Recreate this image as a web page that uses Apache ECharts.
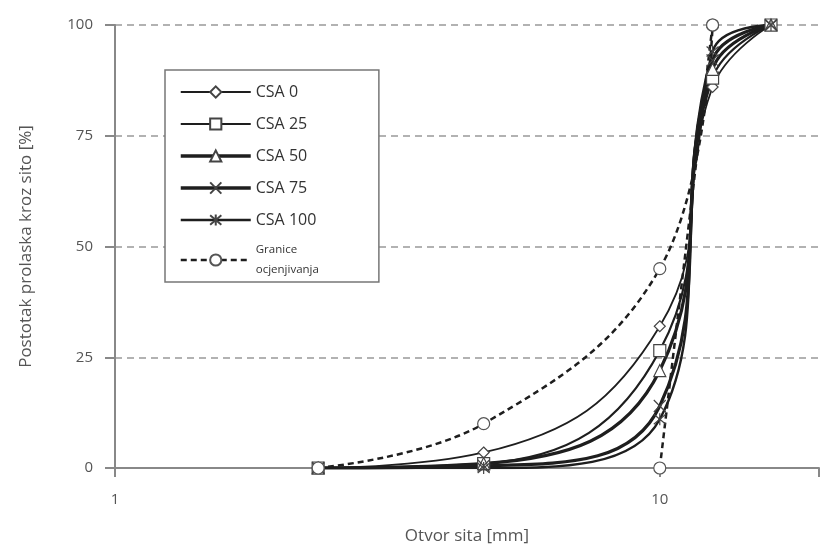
<!DOCTYPE html>
<html>
<head>
<meta charset="utf-8">
<script src="https://cdn.jsdelivr.net/npm/echarts@6/dist/echarts.min.js"></script>
<style>html,body{margin:0;padding:0;background:#fff}#c{width:822px;height:550px}</style>
</head>
<body>
<div id="c"></div>
<script>
const sieve = [2.36, 4.75, 10, 12.5, 16];
const csa0 = [0, 3.5, 32, 86, 100];
const csa25 = [0, 1, 26.5, 88, 100];
const csa50 = [0, 1, 22, 90, 100];
const csa75 = [0, 0.5, 14, 92, 100];
const csa100 = [0, 0, 11, 94, 100];
const upperSieve = [2.36, 4.75, 10, 12.5];
const upperBound = [0, 10, 45, 100];
const lowerSieve = [10, 12.5];
const lowerBound = [0, 100];
const yTicks = [0, 25, 50, 75, 100];
const xTickLabels = [1, 10];

const pair = (xs, ys) => xs.map((x, i) => [x, ys[i]]);
const dark = '#1e1e1e';
const xPath = 'path://M0,0L10,10M10,0L0,10';
const starPath = 'path://M0,0L10,10M10,0L0,10M5,-1L5,11';
const widths = { 'CSA 0': 1.8, 'CSA 25': 2.2, 'CSA 50': 3.2, 'CSA 75': 3.2, 'CSA 100': 2.4 };

function csaSeries(name, ys, symbol, size) {
  return {
    name, type: 'line', data: pair(sieve, ys), smooth: 0.45,
    symbol, symbolSize: size, showAllSymbol: true,
    lineStyle: { color: dark, width: widths[name] },
    itemStyle: { color: '#fff', borderColor: '#444', borderWidth: 1.2 }
  };
}

const chart = echarts.init(document.getElementById('c'));
chart.setOption({
  animation: false,
  textStyle: { fontFamily: 'Open Sans' },
  grid: { left: 115, top: 25, right: 0, bottom: 81 },
  legend: {
    left: 165, top: 70, orient: 'vertical',
    backgroundColor: '#fff',
    borderColor: '#777', borderWidth: 1.5, borderRadius: 0,
    padding: [14, 60, 6, 14],
    itemWidth: 70, itemHeight: 14, itemGap: 16,
    textStyle: { color: '#333', fontSize: 16, fontFamily: 'Open Sans',
      rich: { s: { fontSize: 11.5, lineHeight: 20, color: '#333', fontFamily: 'Open Sans' } } },
    formatter: n => n === 'Granice ocjenjivanja' ? '{s|Granice}\n{s|ocjenjivanja}' : n,
    data: [
      { name: 'CSA 0', lineStyle: { width: 1.8 } },
      { name: 'CSA 25', lineStyle: { width: 2.2 } },
      { name: 'CSA 50', lineStyle: { width: 3.5 } },
      { name: 'CSA 75', lineStyle: { width: 3.5 } },
      { name: 'CSA 100', lineStyle: { width: 2.5 } },
      { name: 'Granice ocjenjivanja', lineStyle: { width: 2.5 } }
    ]
  },
  xAxis: {
    type: 'log', logBase: 10, min: 1, max: 19.6,
    name: 'Otvor sita [mm]', nameLocation: 'middle', nameGap: 60,
    nameTextStyle: { fontSize: 17, color: '#555' },
    axisLine: { lineStyle: { color: '#888', width: 2 } },
    axisTick: { show: true, length: 9, lineStyle: { color: '#888', width: 2 } },
    axisLabel: { fontSize: 15, color: '#555', margin: 24,
      formatter: v => xTickLabels.some(t => Math.abs(t - v) < 1e-6) ? String(Math.round(v)) : '' },
    splitLine: { show: false },
    minorTick: { show: false }
  },
  yAxis: {
    type: 'value', min: 0, max: 100, interval: 25,
    name: 'Postotak prolaska kroz sito [%]', nameLocation: 'middle', nameGap: 80,
    nameTextStyle: { fontSize: 17, color: '#555' },
    axisLine: { show: true, lineStyle: { color: '#888', width: 2 } },
    axisTick: { show: true, length: 10, lineStyle: { color: '#888', width: 2 } },
    axisLabel: { fontSize: 15, color: '#555', margin: 22,
      formatter: v => yTicks.includes(v) ? String(v) : '' },
    splitLine: { show: true, lineStyle: { color: '#999', width: 1.5, type: [7, 5] } }
  },
  series: [
    csaSeries('CSA 0', csa0, 'diamond', 11),
    csaSeries('CSA 25', csa25, 'rect', 12),
    csaSeries('CSA 50', csa50, 'triangle', 12),
    csaSeries('CSA 75', csa75, xPath, 12),
    csaSeries('CSA 100', csa100, starPath, 12),
    {
      name: 'Granice ocjenjivanja', type: 'line', data: pair(upperSieve, upperBound), smooth: 0.4,
      symbol: 'circle', symbolSize: 12,
      lineStyle: { color: dark, width: 2.5, type: [6, 4] },
      itemStyle: { color: '#fff', borderColor: '#555', borderWidth: 1.2 }
    },
    {
      name: 'Granice ocjenjivanja', type: 'line', data: pair(lowerSieve, lowerBound), smooth: 0.4,
      symbol: 'circle', symbolSize: 12,
      lineStyle: { color: dark, width: 2.5, type: [6, 4] },
      itemStyle: { color: '#fff', borderColor: '#555', borderWidth: 1.2 }
    }
  ]
});
</script>
</body>
</html>
